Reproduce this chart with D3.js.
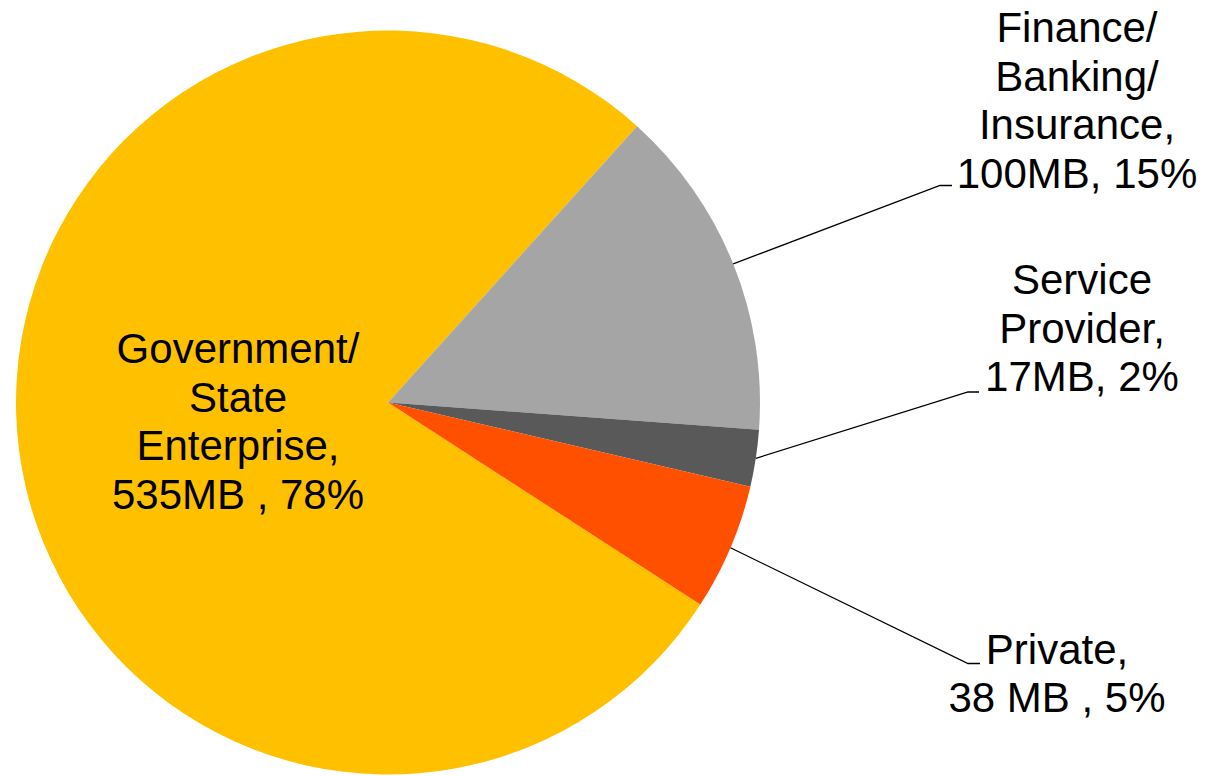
<!DOCTYPE html>
<html>
<head>
<meta charset="utf-8">
<script src="https://cdn.jsdelivr.net/npm/d3@7"></script>
<style>
  html, body { margin: 0; padding: 0; background: #ffffff; }
  svg { display: block; }
  text { font-family: "Liberation Sans", Arial, sans-serif; fill: #000; }
</style>
</head>
<body>
<svg id="chart" width="1206" height="776"></svg>
<script>
// ---- Data ----
const categories = ["Government/ State Enterprise", "Finance/ Banking/ Insurance", "Service Provider", "Private"];
const values = [535, 100, 17, 38];
const colors = ["#FFC000", "#A5A5A5", "#595959", "#FF5000"];
const labelLines = [
  ["Government/", "State", "Enterprise,", "535MB , 78%"],
  ["Finance/", "Banking/", "Insurance,", "100MB, 15%"],
  ["Service", "Provider,", "17MB, 2%"],
  ["Private,", "38 MB , 5%"]
];

// ---- Layout ----
const W = 1206, H = 776;
const cx = 388, cy = 402.5, R = 372;
const startDeg = 122.9;
const fontSize = 42, lineH = 48.7;
// label layout: text center x, first baseline y, optional elbow (leader end) and its horizontal tail
const labelLayout = [
  { x: 238, y: 363, leader: null },
  { x: 1077, y: 42, leader: { ex: 940, ey: 185.5, tx: 952 } },
  { x: 1082, y: 294, leader: { ex: 968, ey: 392, tx: 979 } },
  { x: 1057, y: 663.5, leader: { ex: 968, ey: 663.5, tx: 980 } }
];

const svg = d3.select("#chart");
const g = svg.append("g").attr("transform", `translate(${cx},${cy})`);

const data = categories.map((c, i) => ({ cat: c, value: values[i], color: colors[i], lines: labelLines[i], layout: labelLayout[i] }));

const a0 = startDeg * Math.PI / 180;
const pie = d3.pie().sort(null).value(d => d.value).startAngle(a0).endAngle(a0 + 2 * Math.PI);
const arc = d3.arc().innerRadius(0).outerRadius(R);
const edgeArc = d3.arc().innerRadius(R).outerRadius(R);

const arcs = pie(data);

g.selectAll("path.slice")
  .data(arcs)
  .join("path")
  .attr("class", "slice")
  .attr("d", arc)
  .attr("fill", d => d.data.color);

// leader lines
const leaders = svg.append("g");
arcs.forEach(d => {
  const L = d.data.layout.leader;
  if (!L) return;
  const [px, py] = edgeArc.centroid(d);
  leaders.append("polyline")
    .attr("points", `${cx + px},${cy + py} ${L.ex},${L.ey} ${L.tx},${L.ey}`)
    .attr("fill", "none")
    .attr("stroke", "#000")
    .attr("stroke-width", 1.3);
});

// labels
const labels = svg.append("g");
arcs.forEach(d => {
  const lay = d.data.layout;
  const t = labels.append("text")
    .attr("text-anchor", "middle")
    .attr("font-size", fontSize);
  d.data.lines.forEach((ln, i) => {
    t.append("tspan").attr("x", lay.x).attr("y", lay.y + i * lineH).text(ln);
  });
});
</script>
</body>
</html>
